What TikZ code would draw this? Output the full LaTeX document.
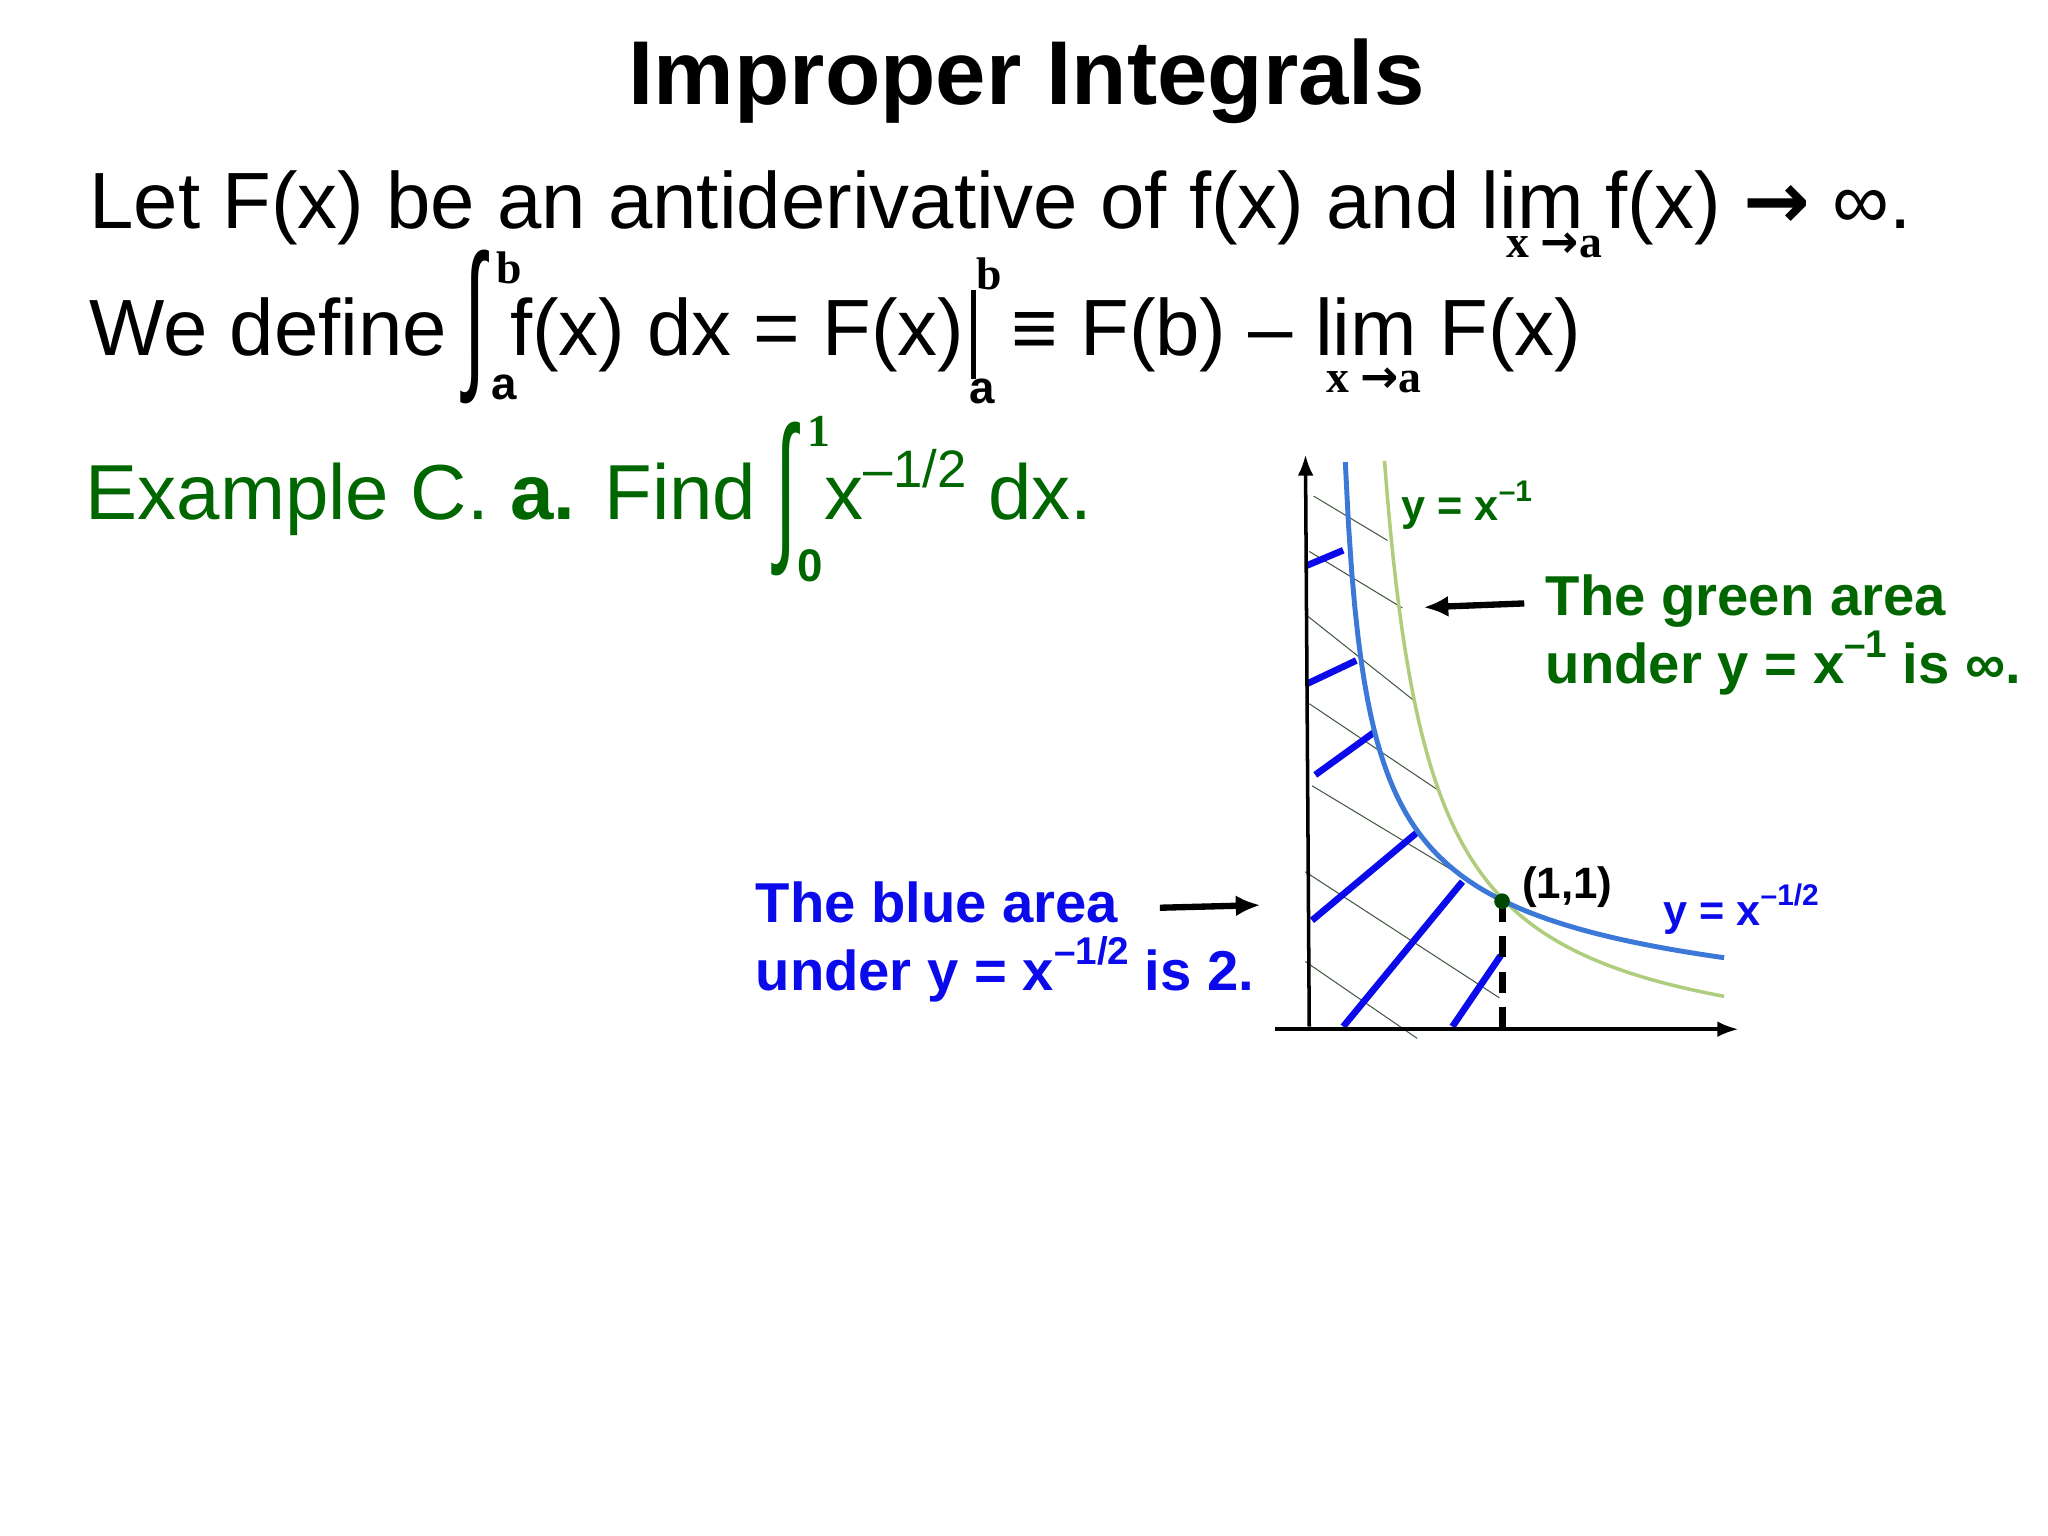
\documentclass[tikz,border=0pt]{standalone}
\usepackage{fontspec}
\setmainfont{Liberation Sans}
\newfontfamily\serifb{Liberation Serif}
\newfontfamily\dejavu{DejaVu Sans}
\usetikzlibrary{arrows.meta}
\definecolor{tgreen}{RGB}{0,102,0}
\definecolor{tblue}{RGB}{10,10,235}
\definecolor{cblue}{RGB}{60,120,215}
\definecolor{cgreen}{RGB}{175,205,125}
\definecolor{hgray}{RGB}{70,90,70}
\tikzset{
  txt/.style={inner sep=0pt, anchor=base west},
  lim/.style={inner sep=0pt, font=\serifb\bfseries\fontsize{13}{13}\selectfont},
  lbl/.style={inner sep=0pt, anchor=base west, font=\bfseries\fontsize{16}{16}\selectfont},
  hatch/.style={hgray, line width=0.3pt},
  bhatch/.style={tblue, line width=1.9pt},
  axis/.style={black, line width=1pt, -{Latex[length=6pt,width=4.5pt]}},
  parrow/.style={black, line width=1.8pt, -{Latex[length=7pt,width=6pt]}}
}
\newcommand{\bigint}{\fontsize{22}{22}\selectfont\scalebox{1}[2.1]{∫}}
\newcommand{\harr}{{\dejavu\bfseries →}}
\begin{document}
\begin{tikzpicture}[x=0.013061cm,y=-0.013061cm]
\useasboundingbox (0,0) rectangle (1568,1176);
% title
\node[inner sep=0pt, anchor=base, font=\bfseries\fontsize{25.8}{25.8}\selectfont] (title) at (786,80) {Improper Integrals};
% line 1
\node[txt, font=\fontsize{22.7}{22.7}\selectfont] (l1) at (68,175) {Let F(x) be an antiderivative of f(x) and lim f(x) \harr\ ∞.};
\node[lim] (l1sub) at (1190,188) {x \harr a};
% line 2
\node[txt, font=\fontsize{22.7}{22.7}\selectfont] (l2a) at (68,272) {We define};
\node[inner sep=0pt] (int1) at (364,250) {\bigint};
\node[lim] (int1b) at (390,205) {b};
\node[inner sep=0pt, font=\bfseries\fontsize{13}{13}\selectfont] (int1a) at (386,297) {a};
\node[txt, font=\fontsize{22.7}{22.7}\selectfont] (l2b) at (390,272) {f(x) dx = F(x)};
\draw[line width=1.4pt] (745,222) -- (745,290);
\node[lim] (barb) at (757,210) {b};
\node[inner sep=0pt, font=\bfseries\fontsize{13}{13}\selectfont] (bara) at (752,300) {a};
\node[txt, font=\fontsize{22.7}{22.7}\selectfont] (l2c) at (774,272) {≡ F(b) – lim F(x)};
\node[lim] (l2sub) at (1052,291) {x \harr a};
% example
\node[txt, tgreen, font=\fontsize{22.2}{22.2}\selectfont] (ex) at (65,398) {Example C. \textbf{a.} Find};
\node[inner sep=0pt, tgreen] (int2) at (602,382) {\bigint};
\node[lim, tgreen] (int2b) at (627,330) {1};
\node[inner sep=0pt, tgreen, font=\bfseries\fontsize{13}{13}\selectfont] (int2a) at (620,433) {0};
\node[txt, tgreen, font=\fontsize{22.2}{22.2}\selectfont] (ex2) at (631,398) {x\raisebox{0.42em}{\fontsize{15}{15}\selectfont –1/2} dx.};
% graph hatching
\draw[hatch] (1005.7,379.8) -- (1062.3,413.8);
\draw[hatch] (1002.4,422.2) -- (1073.7,465.5);
\draw[hatch] (999,470) -- (1083,536.7);
\draw[hatch] (1002.4,538.8) -- (1103.1,606.3);
\draw[hatch] (1004.5,601.6) -- (1148,688);
\draw[hatch] (999.4,667.5) -- (1148,764);
\draw[hatch] (999.4,736.2) -- (1085,795);
\draw[bhatch] (1000.5,433) -- (1028.4,421.3);
\draw[bhatch] (1001,523.4) -- (1038.4,505.7);
\draw[bhatch] (1007,593.3) -- (1052.3,560.5);
\draw[bhatch] (1004.5,704.7) -- (1086.2,636.3);
\draw[bhatch] (1028.4,786) -- (1119.7,675);
\draw[bhatch] (1112,786) -- (1149,731.6);
% curves
\draw[cgreen, line width=1pt] plot[domain=1060:1320, samples=120] (\x,{818-162.81/(\x-1025)*100});
\draw[cblue, line width=1.4pt] plot[domain=1030:1320, samples=120] (\x,{818-1468/sqrt(\x-1020)});
% axes
\coordinate (o1) at (1002.4,786);
\coordinate (ytop) at (999.5,348);
\coordinate (xl) at (976,788);
\coordinate (xr) at (1331,788);
\draw[axis] (o1) -- (ytop);
\draw[axis] (xl) -- (xr);
\coordinate (pt) at (1150,690);
\coordinate (ptb) at (1150,788);
\draw[black, line width=2pt, dash pattern=on 6pt off 4pt] (pt) -- (ptb);
\fill[tgreen!70!black] (pt) circle[radius=6];
% labels
\node[inner sep=0pt, tgreen, font=\bfseries\fontsize{12.3}{12.3}\selectfont] (gy) at (1123,387) {y = x\raisebox{0.45em}{\fontsize{8.5}{8.5}\selectfont –1}};
\node[inner sep=0pt, font=\bfseries\fontsize{12.5}{12.5}\selectfont] (p11) at (1200,679) {(1,1)};
\node[inner sep=0pt, tblue, font=\bfseries\fontsize{12.3}{12.3}\selectfont] (by) at (1333,696) {y = x\raisebox{0.45em}{\fontsize{8.5}{8.5}\selectfont –1/2}};
\node[lbl, tgreen] (g1) at (1183,471) {The green area};
\node[lbl, tgreen] (g2) at (1183,523) {under y = x\raisebox{0.45em}{\fontsize{11}{11}\selectfont –1} is ∞.};
\node[lbl, tblue] (b1) at (578,706) {The blue area};
\node[lbl, tblue] (b2) at (578,758) {under y = x\raisebox{0.45em}{\fontsize{11}{11}\selectfont –1/2} is 2.};
\coordinate (ga0) at (1167,462);
\coordinate (ga1) at (1090,465);
\draw[parrow] (ga0) -- (ga1);
\coordinate (ba0) at (888,695);
\coordinate (ba1) at (965,693);
\draw[parrow] (ba0) -- (ba1);
\end{tikzpicture}
\end{document}
